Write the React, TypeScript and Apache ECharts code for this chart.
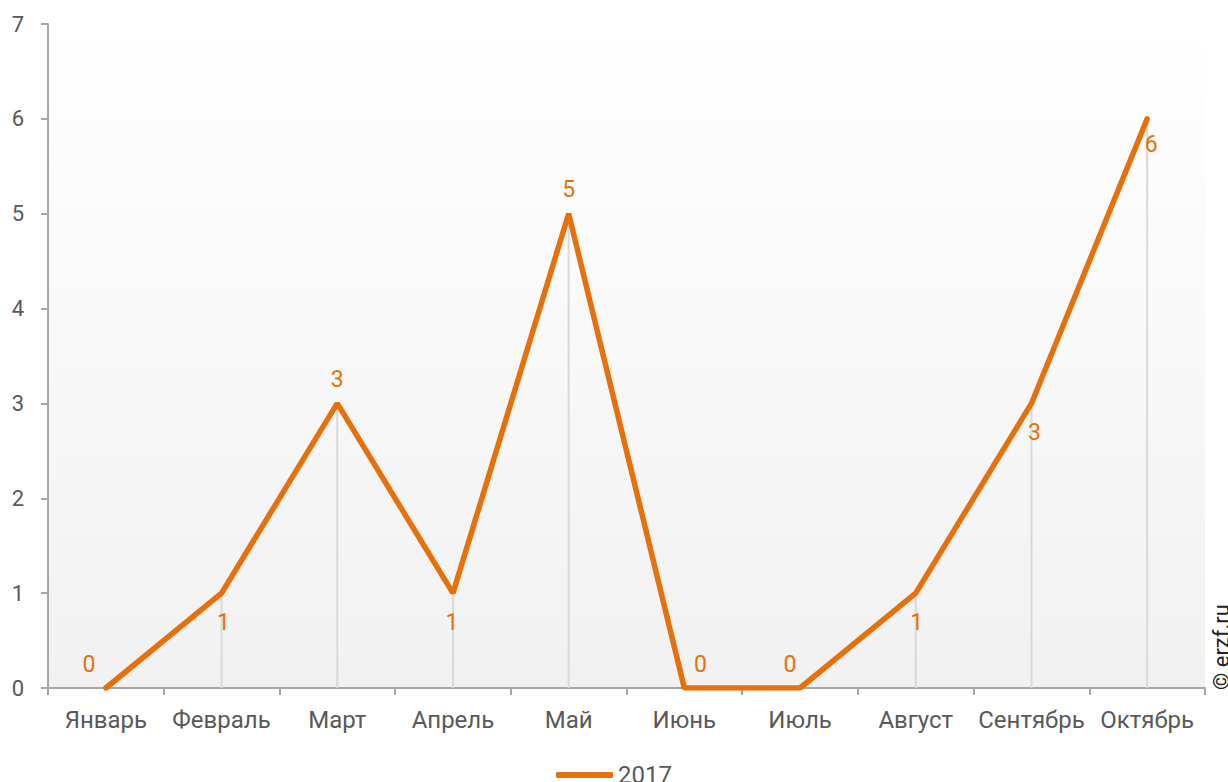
import React, { useEffect, useRef } from "react";
import * as echarts from "echarts";

const categories = ["Январь", "Февраль", "Март", "Апрель", "Май", "Июнь", "Июль", "Август", "Сентябрь", "Октябрь"];
const values2017 = [0, 1, 3, 1, 5, 0, 0, 1, 3, 6];
const labelPos = ["top", "bottom", "top", "bottom", "top", "top", "top", "bottom", "bottom", "bottom"];
const labelOffsetX = [-17, 2, 0, -1, 0, 16, -10, 1, 3, 4];
const labelOffsetY = [0, 0, 0, 0, 0, 0, 0, 0, 0, -3];
const yTicks = [0, 1, 2, 3, 4, 5, 6, 7];

const ORANGE = "#E8700A";
const AXIS = "#a6a6a6";
const TEXT = "#595959";

export default function App() {
  const ref = useRef<HTMLDivElement>(null);
  useEffect(() => {
    const chart = echarts.init(ref.current!, null, { renderer: "svg" });
    chart.setOption({
      animation: false,
      textStyle: { fontFamily: "Roboto" },
      grid: {
        left: 48,
        right: 23,
        top: 24,
        bottom: 94,
        show: true,
        borderWidth: 0,
        backgroundColor: new echarts.graphic.LinearGradient(0, 0, 0, 1, [
          { offset: 0, color: "#ffffff" },
          { offset: 1, color: "#f1f1f1" },
        ]),
      },
      legend: {
        data: ["2017"],
        top: 758,
        left: "center",
        itemWidth: 57,
        itemHeight: 6,
        itemGap: 3,
        icon: "roundRect",
        textStyle: { fontSize: 24, color: TEXT, fontFamily: "Roboto", padding: [0, 0, 0, 0] },
      },
      xAxis: {
        type: "category",
        data: categories,
        boundaryGap: true,
        axisLine: { lineStyle: { color: AXIS, width: 2 } },
        axisTick: { show: true, length: 7, lineStyle: { color: AXIS, width: 2 } },
        axisLabel: { fontSize: 24, color: TEXT, margin: 20, fontFamily: "Roboto", interval: 0 },
        splitLine: { show: false },
      },
      yAxis: {
        type: "value",
        min: yTicks[0],
        max: yTicks[yTicks.length - 1],
        interval: 1,
        axisLine: { show: true, lineStyle: { color: AXIS, width: 2 } },
        axisTick: { show: true, length: 7, lineStyle: { color: AXIS, width: 2 } },
        axisLabel: { fontSize: 22, color: TEXT, margin: 24, fontFamily: "Roboto" },
        splitLine: { show: false },
      },
      series: [
        {
          name: "drop",
          type: "bar",
          data: values2017,
          barWidth: 2,
          itemStyle: { color: "#d9d9d9" },
          silent: true,
          z: 1,
        },
        {
          name: "2017",
          type: "line",
          z: 3,
          data: values2017.map((v, i) => ({
            value: v,
            label: {
              position: labelPos[i],
              distance: labelPos[i] === "top" ? 12 : 17,
              offset: [labelOffsetX[i], labelOffsetY[i]],
            },
          })),
          showSymbol: true,
          symbol: "circle",
          symbolSize: 1,
          itemStyle: { color: ORANGE },
          lineStyle: { color: ORANGE, width: 5.5, cap: "round" },
          label: {
            show: true,
            fontSize: 23,
            color: ORANGE,
            fontFamily: "Roboto",
          },
        },
      ],
      graphic: [
        {
          type: "text",
          x: 1210,
          y: 690,
          rotation: Math.PI / 2,
          style: {
            text: "© erzf.ru",
            fontSize: 22,
            fill: "#222",
            fontFamily: "Roboto",
            textAlign: "left",
            textVerticalAlign: "top",
          },
        },
      ],
    });
    return () => chart.dispose();
  }, []);
  return <div ref={ref} style={{ width: 1228, height: 782, position: "absolute", left: 0, top: 0 }} />;
}
